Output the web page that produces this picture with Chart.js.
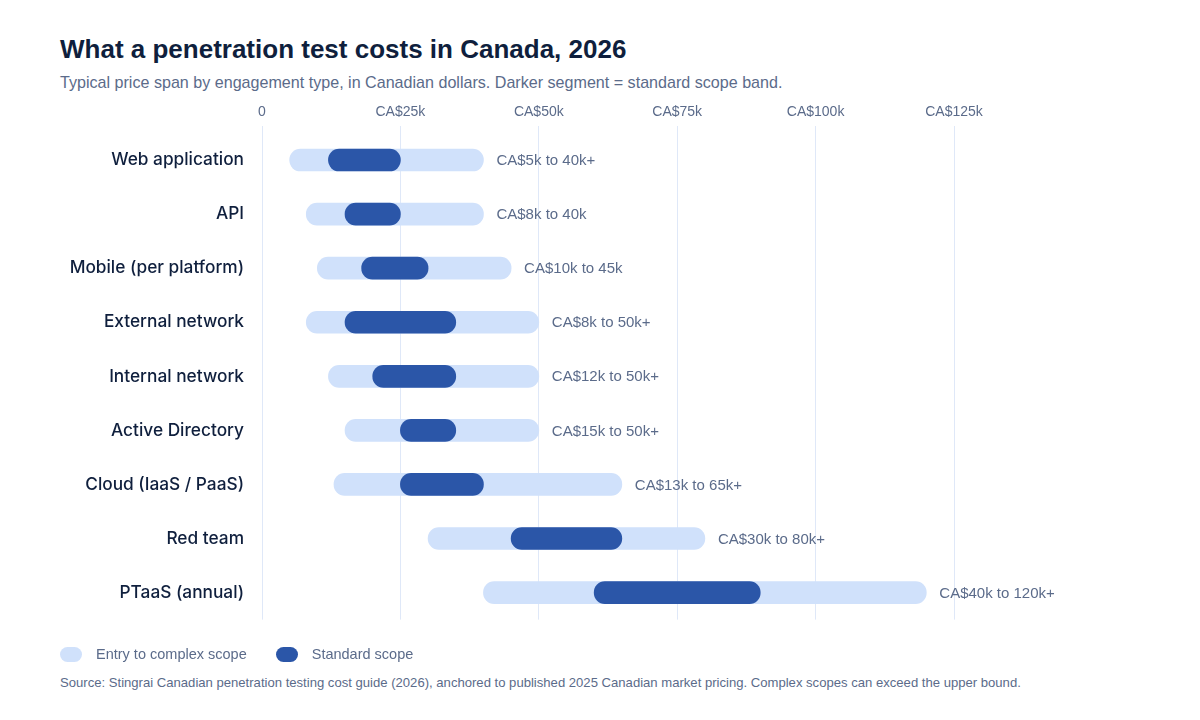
<!DOCTYPE html>
<html>
<head>
<meta charset="utf-8">
<script src="https://cdn.jsdelivr.net/npm/chart.js@4.4.1/dist/chart.umd.min.js"></script>
<style>
  html, body { margin: 0; padding: 0; background: #ffffff; }
  body { width: 1200px; height: 720px; position: relative; overflow: hidden;
         font-family: "Liberation Sans", Arial, Helvetica, sans-serif; }
  #title { position: absolute; left: 60px; top: 34px; margin: 0; font-size: 26px; font-weight: 700; color: #0f1f3d; }
  #subtitle { position: absolute; left: 60px; top: 73px; margin: 0; font-size: 16.1px; color: #5b6b8a; }
  #chartBox { position: absolute; left: 0; top: 95px; width: 1200px; height: 553px; }
  #legend { position: absolute; left: 60px; top: 646px; font-size: 14.5px; color: #5b6b8a; display: flex; }
  .item { display: flex; align-items: center; margin-right: 29px; }
  .pill { width: 22px; height: 15px; border-radius: 8px; margin-right: 14px; }
  #source { position: absolute; left: 60px; top: 675px; margin: 0; font-size: 13.1px; color: #5b6b8a; }
</style>
</head>
<body>
<h1 id="title">What a penetration test costs in Canada, 2026</h1>
<p id="subtitle">Typical price span by engagement type, in Canadian dollars. Darker segment = standard scope band.</p>
<div id="chartBox"><canvas id="chart"></canvas></div>
<div id="legend">
  <div class="item"><span class="pill" style="background:#d0e1fb"></span>Entry to complex scope</div>
  <div class="item"><span class="pill" style="background:#2b56a8"></span>Standard scope</div>
</div>
<p id="source">Source: Stingrai Canadian penetration testing cost guide (2026), anchored to published 2025 Canadian market pricing. Complex scopes can exceed the upper bound.</p>

<script>
// Datos (miles de CA$)
const categories = ['Web application', 'API', 'Mobile (per platform)', 'External network', 'Internal network',
    'Active Directory', 'Cloud (IaaS / PaaS)', 'Red team', 'PTaaS (annual)'];
const fullLow = [5, 8, 10, 8, 12, 15, 13, 30, 40];
const fullHigh = [40, 40, 45, 50, 50, 50, 65, 80, 120];
const standardLow = [12, 15, 18, 15, 20, 25, 25, 45, 60];
const standardHigh = [25, 25, 30, 35, 35, 35, 40, 65, 90];
const rangeLabels = ['CA$5k to 40k+', 'CA$8k to 40k', 'CA$10k to 45k', 'CA$8k to 50k+', 'CA$12k to 50k+',
    'CA$15k to 50k+', 'CA$13k to 65k+', 'CA$30k to 80k+', 'CA$40k to 120k+'];
const xTicks = [0, 25, 50, 75, 100, 125];

const fullData = categories.map((c, i) => [fullLow[i], fullHigh[i]]);
const standardData = categories.map((c, i) => [standardLow[i], standardHigh[i]]);

// Etiquetas al final de cada barra
const rangeLabelPlugin = {
    id: 'rangeLabels',
    afterDatasetsDraw(chart) {
        const ctx = chart.ctx;
        const meta = chart.getDatasetMeta(0);
        ctx.save();
        ctx.font = '15px "Liberation Sans", Arial, sans-serif';
        ctx.fillStyle = '#5b6b8a';
        ctx.textAlign = 'left';
        ctx.textBaseline = 'middle';
        meta.data.forEach((bar, i) => {
            ctx.fillText(rangeLabels[i], bar.x + 13, bar.y + 1);
        });
        ctx.restore();
    }
};

const ctx = document.getElementById('chart').getContext('2d');
window.myChart = new Chart(ctx, {
    type: 'bar',
    data: {
        labels: categories,
        datasets: [
            {
                label: 'Entry to complex scope',
                data: fullData,
                backgroundColor: '#d0e1fb',
                borderRadius: 11,
                borderSkipped: false,
                barThickness: 22,
                grouped: false,
                order: 2
            },
            {
                label: 'Standard scope',
                data: standardData,
                backgroundColor: '#2b56a8',
                borderRadius: 11,
                borderSkipped: false,
                barThickness: 22,
                grouped: false,
                order: 1
            }
        ]
    },
    options: {
        indexAxis: 'y',
        responsive: true,
        maintainAspectRatio: false,
        animation: false,
        layout: { padding: { left: 0, right: 246, top: 0, bottom: 11 } },
        plugins: {
            legend: { display: false },
            tooltip: { enabled: false }
        },
        scales: {
            x: {
                position: 'top',
                min: 0,
                max: 125,
                afterBuildTicks: function (scale) {
                    scale.ticks = xTicks.map(v => ({ value: v }));
                },
                afterFit: function (scale) { scale.height = 38; },
                grid: { color: '#dfe8f8', lineWidth: 1, tickLength: 7 },
                border: { display: false },
                ticks: {
                    padding: 5,
                    color: '#5b6b8a',
                    font: { family: '"Liberation Sans", Arial, sans-serif', size: 14 },
                    callback: function (v) { return v === 0 ? '0' : 'CA$' + v + 'k'; }
                }
            },
            y: {
                afterFit: function (scale) { scale.width = 262; },
                grid: { display: false, drawTicks: false },
                border: { display: false },
                ticks: {
                    padding: 18,
                    color: '#0f1f3d',
                    font: { family: 'Inter, "Liberation Sans", sans-serif', size: 17.3, weight: 500 }
                }
            }
        }
    },
    plugins: [rangeLabelPlugin]
});
</script>
</body>
</html>
